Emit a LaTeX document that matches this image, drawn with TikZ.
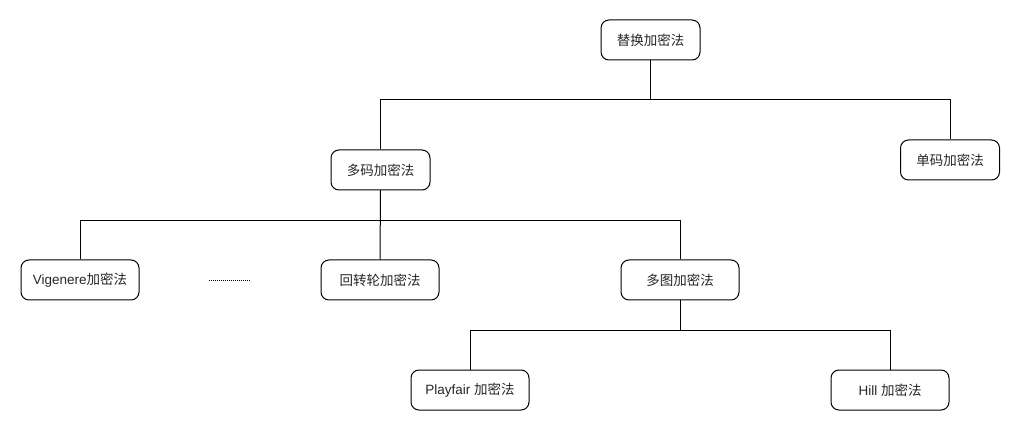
\documentclass[tikz,border=0pt]{standalone}
\usepackage{fontspec}
\setmainfont{Liberation Sans}
\newfontfamily\cjk{Noto Sans CJK SC}
\begin{document}
\begin{tikzpicture}[x=1pt,y=-1pt,
  box/.style={draw=black, line width=1pt, rounded corners=8pt, fill=white, minimum height=40pt, inner sep=0pt, font=\fontsize{13.5}{16}\selectfont, text=black!85},
  wbox/.style={box, minimum width=99pt},
  lbox/.style={box, minimum width=118pt},
  link/.style={draw=black, line width=1pt}]
\useasboundingbox (0,0) rectangle (1020,430);
\node[wbox] (root) at (650.5,40) {\cjk 替换加密法};
\node[wbox] (poly) at (380.5,170) {\cjk 多码加密法};
\node[wbox] (mono) at (950,160) {\cjk 单码加密法};
\node[lbox] (vig) at (80,280) {Vigenere{\cjk 加密法}};
\node[lbox] (rot) at (380,280) {\cjk 回转轮加密法};
\node[lbox] (multi) at (680,280) {\cjk 多图加密法};
\node[lbox] (play) at (470,390) {Playfair {\cjk 加密法}};
\node[lbox] (hill) at (890,390) {Hill {\cjk 加密法}};
\coordinate (d1) at (209,280);
\coordinate (d2) at (251,280);
\draw[link] (root.south) -- ++(0,39.5) -| (poly.north);
\draw[link] (root.south) -- ++(0,39.5) -| (mono.north);
\draw[link] (poly.south) -- ++(0,30) -| (vig.north);
\draw[link] (poly.south) -- (rot.north);
\draw[link] (poly.south) -- ++(0,30) -| (multi.north);
\draw[link] (multi.south) -- ++(0,30) -| (play.north);
\draw[link] (multi.south) -- ++(0,30) -| (hill.north);
\draw[line width=0.8pt, dash pattern=on 1pt off 1pt] (d1) -- (d2);
\end{tikzpicture}
\end{document}
